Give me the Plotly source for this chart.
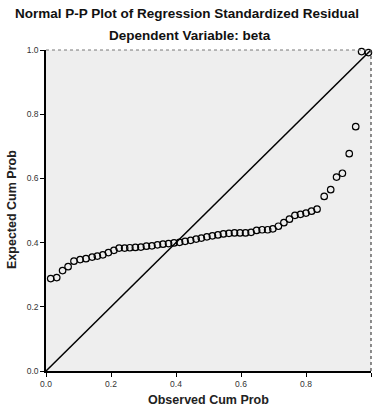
import plotly.graph_objects as go

observed = [0.0145, 0.033, 0.051, 0.068, 0.086, 0.105, 0.123, 0.142, 0.158, 0.175,
            0.192, 0.209, 0.225, 0.242, 0.258, 0.275, 0.292, 0.309, 0.326, 0.343,
            0.360, 0.377, 0.394, 0.411, 0.428, 0.445, 0.462, 0.478, 0.495, 0.512,
            0.529, 0.546, 0.563, 0.580, 0.597, 0.614, 0.631, 0.648, 0.665, 0.682,
            0.698, 0.715, 0.732, 0.749, 0.766, 0.783, 0.800, 0.817, 0.834, 0.856,
            0.876, 0.894, 0.912, 0.933, 0.953, 0.971, 0.992]
expected = [0.288, 0.291, 0.313, 0.325, 0.342, 0.347, 0.350, 0.355, 0.358, 0.362,
            0.369, 0.376, 0.383, 0.383, 0.384, 0.385, 0.386, 0.389, 0.390, 0.393,
            0.395, 0.397, 0.399, 0.401, 0.404, 0.407, 0.411, 0.414, 0.418, 0.421,
            0.424, 0.427, 0.429, 0.430, 0.430, 0.430, 0.432, 0.438, 0.440, 0.440,
            0.443, 0.451, 0.462, 0.473, 0.485, 0.488, 0.492, 0.498, 0.504, 0.544,
            0.565, 0.604, 0.616, 0.677, 0.761, 0.995, 0.992]
ref_line = [0.0, 1.0]
tick_vals = [0.0, 0.2, 0.4, 0.6, 0.8, 1.0]
tick_text = ["0.0", "0.2", "0.4", "0.6", "0.8", "1.0"]

FONT = "Liberation Sans, Arial, sans-serif"
W, H = 374, 414
ML, MR, MT, MB = 46, 3, 50, 43
PW, PH = W - ML - MR, H - MT - MB


def px(x):
    return (x - ML) / PW


def py(y):
    return (H - MB - y) / PH


fig = go.Figure()
fig.add_trace(go.Scatter(x=ref_line, y=ref_line, mode="lines",
                         line=dict(color="black", width=1.5),
                         hoverinfo="skip", showlegend=False))
fig.add_trace(go.Scatter(x=observed, y=expected, mode="markers",
                         marker=dict(symbol="circle-open", size=6.5,
                                     color="black", line=dict(width=1.2)),
                         cliponaxis=False, showlegend=False))

axis_common = dict(range=[0, 1], tickvals=tick_vals, ticktext=tick_text,
                   showgrid=False, zeroline=False, showline=True,
                   linecolor="black", linewidth=1.5, ticks="outside",
                   ticklen=4, tickwidth=1, tickcolor="black",
                   tickfont=dict(family=FONT, size=8.5, color="#333333"))

fig.update_layout(
    width=W, height=H,
    margin=dict(l=ML, r=MR, t=MT, b=MB, pad=0),
    paper_bgcolor="white", plot_bgcolor="#eeeeee",
    xaxis=dict(**axis_common),
    yaxis=dict(**axis_common),
    shapes=[
        dict(type="line", xref="paper", yref="paper", x0=0, x1=1, y0=1, y1=1,
             line=dict(color="#777777", width=1, dash="dot")),
        dict(type="line", xref="paper", yref="paper", x0=1, x1=1, y0=0, y1=1,
             line=dict(color="#444444", width=1.2, dash="dot")),
    ],
    annotations=[
        dict(text="<b>Normal P-P Plot of Regression Standardized Residual</b>",
             xref="paper", yref="paper", x=px(187), y=py(14),
             xanchor="center", yanchor="middle", showarrow=False,
             font=dict(family=FONT, size=13.5, color="#111111")),
        dict(text="<b>Dependent Variable: beta</b>",
             xref="paper", yref="paper", x=px(190), y=py(35),
             xanchor="center", yanchor="middle", showarrow=False,
             font=dict(family=FONT, size=13.5, color="#111111")),
        dict(text="<b>Observed Cum Prob</b>",
             xref="paper", yref="paper", x=px(209), y=py(400),
             xanchor="center", yanchor="middle", showarrow=False,
             font=dict(family=FONT, size=12.5, color="#222222")),
        dict(text="<b>Expected Cum Prob</b>",
             xref="paper", yref="paper", x=px(12), y=py(210),
             xanchor="center", yanchor="middle", showarrow=False, textangle=-90,
             font=dict(family=FONT, size=12.5, color="#222222")),
    ],
)

fig.write_html("out.html")
